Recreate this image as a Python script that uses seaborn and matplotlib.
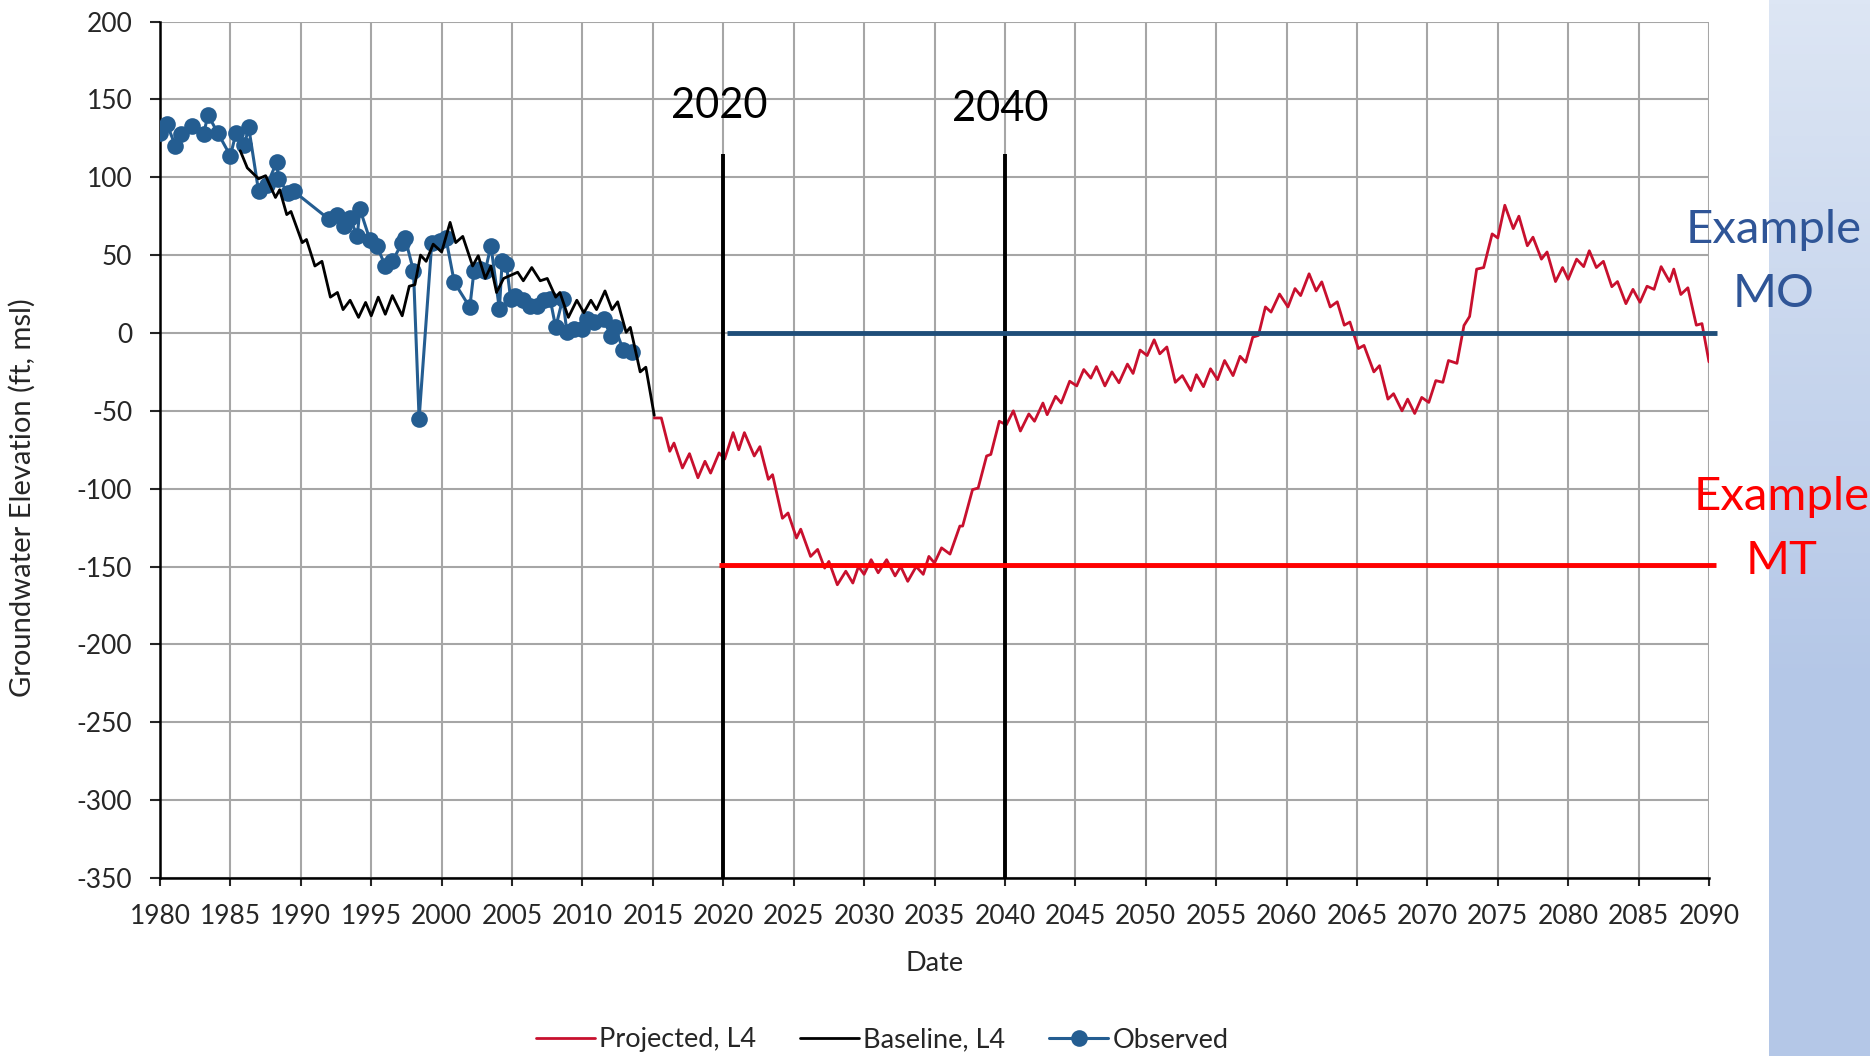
import numpy as np
import pandas as pd
import matplotlib
matplotlib.use("Agg")
import matplotlib.pyplot as plt
import seaborn as sns

# observed groundwater elevations (ft, msl)
obs_year = [1980.0, 1980.5, 1981.1, 1981.5, 1982.3, 1983.1, 1983.4, 1984.1, 1985.0, 1985.4,
            1986.0, 1986.3, 1987.0, 1987.6, 1988.3, 1988.4, 1989.1, 1989.5, 1992.0, 1992.6,
            1993.1, 1993.5, 1994.0, 1994.2, 1994.9, 1995.4, 1996.0, 1996.5, 1997.2, 1997.4,
            1998.0, 1998.4, 1999.3, 1999.9, 2000.3, 2000.9, 2002.0, 2002.3, 2002.7, 2003.1,
            2003.5, 2004.1, 2004.3, 2004.6, 2004.9, 2005.2, 2005.8, 2006.3, 2006.8, 2007.3,
            2007.7, 2008.1, 2008.6, 2008.9, 2009.4, 2010.0, 2010.3, 2010.8, 2011.5, 2012.0,
            2012.3, 2012.9, 2013.5]
obs_elev = [128.6, 134, 120, 127.6, 133, 127.6, 140, 128.6, 113.7, 128.6,
            121, 132, 91, 95, 110, 99, 90, 91, 73, 76,
            69, 74, 62, 79.5, 60, 56, 43, 46, 58, 61,
            40, -55, 58, 59, 61, 32.5, 16.5, 40, 41, 40,
            56, 15.4, 46, 44, 22, 24, 21, 17.5, 17.5, 21,
            22, 3.6, 22, 0.4, 2.6, 2.6, 9, 7, 9, -1.7,
            3.6, -11, -12]

# baseline model, L4
base_year = [1985.7, 1986.2, 1987.0, 1987.5, 1988.2, 1988.5, 1989.0, 1989.3, 1990.1, 1990.4,
             1991.0, 1991.5, 1992.1, 1992.6, 1993.0, 1993.5, 1994.1, 1994.6, 1995.0, 1995.5,
             1996.0, 1996.5, 1997.2, 1997.7, 1998.1, 1998.5, 1998.9, 1999.4, 2000.0, 2000.6,
             2001.0, 2001.5, 2002.2, 2002.6, 2003.1, 2003.5, 2003.9, 2004.4, 2005.4, 2005.8,
             2006.4, 2007.0, 2007.5, 2008.1, 2008.4, 2009.0, 2009.6, 2010.1, 2010.6, 2011.0,
             2011.6, 2012.1, 2012.5, 2013.1, 2013.4, 2014.1, 2014.5, 2015.1]
base_elev = [117, 106, 99, 101, 87, 92, 76, 78, 58, 60,
             43, 46, 23, 26, 15, 21, 10, 19.6, 11, 23,
             12, 24, 11, 30, 31, 50, 46, 57, 52, 71,
             58, 62, 43, 49.6, 35, 43, 26, 35, 39, 33.5,
             42, 33.5, 35, 23, 26, 10, 21, 13, 21, 15,
             27, 15, 20, 0.4, 3.6, -25, -22, -53]

# projected model, L4
proj_year = [2015.1, 2015.6, 2016.2, 2016.5, 2017.1, 2017.6, 2018.2, 2018.7, 2019.1, 2019.7,
             2020.1, 2020.7, 2021.1, 2021.5, 2022.2, 2022.6, 2023.2, 2023.5, 2024.2, 2024.6,
             2025.2, 2025.5, 2026.2, 2026.7, 2027.2, 2027.5, 2028.1, 2028.7, 2029.2, 2029.6,
             2030.0, 2030.5, 2031.0, 2031.6, 2032.2, 2032.6, 2033.1, 2033.7, 2034.2, 2034.6,
             2035.0, 2035.5, 2036.1, 2036.8, 2037.0, 2037.7, 2038.1, 2038.7, 2039.0, 2039.6,
             2040.1, 2040.6, 2041.1, 2041.7, 2042.1, 2042.7, 2043.0, 2043.6, 2044.0, 2044.6,
             2045.1, 2045.6, 2046.1, 2046.5, 2047.1, 2047.6, 2048.1, 2048.7, 2049.1, 2049.6,
             2050.1, 2050.6, 2051.0, 2051.5, 2052.1, 2052.6, 2053.2, 2053.6, 2054.1, 2054.6,
             2055.1, 2055.6, 2056.2, 2056.7, 2057.1, 2057.6, 2058.0, 2058.5, 2058.9, 2059.5,
             2060.1, 2060.6, 2061.0, 2061.6, 2062.1, 2062.5, 2063.1, 2063.6, 2064.1, 2064.5,
             2065.1, 2065.5, 2066.2, 2066.6, 2067.2, 2067.6, 2068.2, 2068.6, 2069.1, 2069.6,
             2070.1, 2070.6, 2071.1, 2071.5, 2072.1, 2072.6, 2073.0, 2073.5, 2074.0, 2074.6,
             2075.0, 2075.5, 2076.1, 2076.5, 2077.1, 2077.5, 2078.1, 2078.5, 2079.1, 2079.6,
             2080.0, 2080.6, 2081.1, 2081.5, 2082.0, 2082.5, 2083.1, 2083.5, 2084.1, 2084.6,
             2085.1, 2085.6, 2086.1, 2086.6, 2087.2, 2087.5, 2088.0, 2088.5, 2089.1, 2089.5,
             2090.0]
proj_elev = [-54.6, -54.6, -76, -70.7, -86.7, -77.5, -93, -82.4, -90, -77,
             -81, -64, -75, -64, -79, -73, -94, -91, -119, -115.6,
             -131.7, -126, -143.5, -139, -151, -146.7, -161.7, -153, -160.6, -150,
             -155, -145.6, -154, -145.6, -156, -150, -159.5, -150, -155, -143.5,
             -147.7, -138, -142, -124, -124, -100.6, -99.6, -79, -78, -56.7,
             -59, -50, -63, -52, -56.7, -45, -52.5, -40.7, -45, -31,
             -34, -23.5, -29, -21.6, -34, -25, -32, -20, -26, -11,
             -14.5, -4.4, -13.4, -9, -31.7, -27.4, -37, -26.8, -34.5, -23,
             -30, -17.7, -27.4, -15, -18.8, -2.7, -1.6, 16.7, 13.4, 25,
             16.7, 28.5, 24, 38, 27, 32.8, 16.7, 20, 5, 7,
             -10, -8, -25, -21, -42.5, -39, -50, -42.5, -51.7, -41.4,
             -44.6, -30.6, -31.7, -17.7, -19.5, 4.8, 10.6, 41, 42, 63.6,
             61, 82, 67, 75, 56, 61.5, 47.4, 52, 33, 42,
             34.4, 47.4, 42.6, 52.8, 42, 46, 29.7, 33, 18.8, 28,
             19.7, 30, 28, 42.6, 33, 41, 24.7, 29, 5, 6,
             -18.6]

milestone_years = [2020, 2040]
mo_level = 0
mt_level = -149

obs = pd.DataFrame({"year": obs_year, "elev": obs_elev})
base = pd.DataFrame({"year": base_year, "elev": base_elev})
proj = pd.DataFrame({"year": proj_year, "elev": proj_elev})

sns.set_style("white")
plt.rcParams["font.family"] = ["Lato", "DejaVu Sans"]
plt.rcParams["axes.unicode_minus"] = False

fig = plt.figure(figsize=(18.7, 10.56), dpi=100)
ax = fig.add_axes([160 / 1870, 1 - 878 / 1056, 1549 / 1870, 856.5 / 1056])

# light blue slide strip on the right
strip = fig.add_axes([1769 / 1870, 0, 101 / 1870, 1], zorder=-1)
top_c = np.array([221, 230, 244]) / 255
bot_c = np.array([180, 199, 231]) / 255
t = np.clip(np.linspace(0, 1, 256) / 0.65, 0, 1)[:, None]
grad = top_c[None, :] * (1 - t) + bot_c[None, :] * t
strip.imshow(grad[:, None, :], aspect="auto", extent=[0, 1, 0, 1])
strip.axis("off")

sns.lineplot(data=obs, x="year", y="elev", ax=ax, color="#245d91", lw=2.2,
             marker="o", markersize=12, markeredgewidth=0, estimator=None, sort=False,
             label="Observed", zorder=3)
sns.lineplot(data=base, x="year", y="elev", ax=ax, color="black", lw=2.0,
             estimator=None, sort=False, label="Baseline, L4", zorder=4)
sns.lineplot(data=proj, x="year", y="elev", ax=ax, color="#c8102e", lw=2.0,
             estimator=None, sort=False, label="Projected, L4", zorder=4)

# milestone lines and MO / MT thresholds
ax.vlines(milestone_years, -350, 115, color="black", lw=2.8, zorder=5)
for yr, yt in zip(milestone_years, [146, 144]):
    ax.text(yr - 0.3, yt, str(yr), ha="center", va="center", fontsize=30, color="black")
ax.hlines(mo_level, milestone_years[0] + 0.3, 2090.6, color="#1f4e79", lw=3.5,
          zorder=5, clip_on=False)
ax.hlines(mt_level, milestone_years[0] - 0.3, 2090.5, color="#ff0000", lw=3.5,
          zorder=5, clip_on=False)

fig.text(1774 / 1870, 1 - 262 / 1056, "Example\nMO", ha="center", va="center",
         fontsize=34, color="#2f5597", linespacing=1.62)
fig.text(1782 / 1870, 1 - 529 / 1056, "Example\nMT", ha="center", va="center",
         fontsize=34, color="#ff0000", linespacing=1.62)

ax.set_xlim(1980, 2090)
ax.set_ylim(-350, 200)
ax.set_xticks(np.arange(1980, 2091, 5))
ax.set_yticks(np.arange(-350, 201, 50))
ax.grid(True, color="#a6a6a6", lw=1.5)
for s in ["top", "right"]:
    ax.spines[s].set_visible(False)
for s in ["left", "bottom"]:
    ax.spines[s].set_color("black")
    ax.spines[s].set_linewidth(1.8)
ax.tick_params(axis="y", direction="out", length=7, width=1.5, pad=13, labelsize=19,
               left=True)
ax.tick_params(axis="x", direction="out", length=6, width=1.5, pad=13, labelsize=19,
               bottom=True)

ax.set_xlabel("Date", fontsize=19.5)
ax.set_ylabel("Groundwater Elevation (ft, msl)", fontsize=21)
ax.xaxis.set_label_coords(0.5, -0.085)
ax.yaxis.set_label_coords(-0.08, 0.444)

handles, labels = ax.get_legend_handles_labels()
order = [labels.index(n) for n in ["Projected, L4", "Baseline, L4", "Observed"]]
ax.get_legend().remove()
fig.legend([handles[i] for i in order], [labels[i] for i in order],
           loc="center", bbox_to_anchor=(882 / 1870, 16 / 1056), ncol=3,
           frameon=False, fontsize=19.5, handlelength=2.2, handletextpad=0.15,
           columnspacing=1.6)

fig.savefig("out.png", dpi=100)
